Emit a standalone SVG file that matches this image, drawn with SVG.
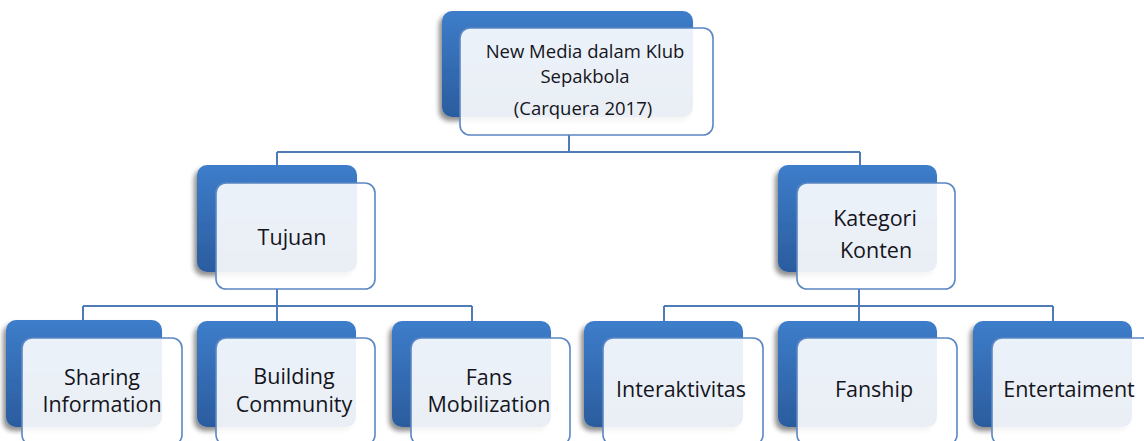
<svg xmlns="http://www.w3.org/2000/svg" width="1144" height="441" viewBox="0 0 1144 441">
<defs>
<linearGradient id="blueGrad" x1="0" y1="0" x2="0" y2="1">
<stop offset="0" stop-color="#3d7dca"/>
<stop offset="1" stop-color="#2b5c9e"/>
</linearGradient>
<filter id="shadow" x="-20%" y="-20%" width="140%" height="140%">
<feGaussianBlur in="SourceAlpha" stdDeviation="2.5"/>
<feOffset dx="-3" dy="4" result="b"/>
<feComponentTransfer><feFuncA type="linear" slope="0.45"/></feComponentTransfer>
<feMerge><feMergeNode/><feMergeNode in="SourceGraphic"/></feMerge>
</filter>
</defs>
<style>
.back{fill:url(#blueGrad);filter:url(#shadow);}
.front{fill:#ffffff;fill-opacity:0.9;stroke:#5b87c2;stroke-width:1.6;}
.conn{fill:none;stroke:#4f7bb7;stroke-width:2;}
.t{font-family:"Open Sans","Noto Sans","Liberation Sans",sans-serif;font-size:21.5px;fill:#15151d;text-anchor:middle;}
.ts{font-family:"Open Sans","Noto Sans","Liberation Sans",sans-serif;font-size:18.5px;fill:#15151d;text-anchor:middle;}
</style>
<rect width="1144" height="441" fill="#ffffff"/>
<g id="connectors">
<path class="conn" d="M569,135 V152 M277,152 H860 M277,152 V166 M860,152 V166"/>
<path class="conn" d="M277,289 V306 M83,306 H472 M83,306 V321 M277,306 V321 M472,306 V321"/>
<path class="conn" d="M859,289 V306 M664,306 H1053 M664,306 V321 M859,306 V321 M1053,306 V321"/>
</g>
<g id="node-root">
<rect class="back" x="442" y="11" width="251" height="106" rx="10"/>
<rect class="front" x="460" y="28" width="253" height="107" rx="10"/>
<text class="ts" x="585" y="58">New Media dalam Klub</text>
<text class="ts" x="585" y="83">Sepakbola</text>
<text class="ts" x="583" y="115">(Carquera 2017)</text>
</g>
<g id="node-tujuan">
<rect class="back" x="197" y="165" width="160" height="107" rx="10"/>
<rect class="front" x="216" y="183" width="159" height="106" rx="10"/>
<text class="t" x="292" y="245">Tujuan</text>
</g>
<g id="node-kategori">
<rect class="back" x="778" y="165" width="159" height="107" rx="10"/>
<rect class="front" x="797" y="183" width="158" height="106" rx="10"/>
<text class="t" x="875" y="226">Kategori</text>
<text class="t" x="876" y="258">Konten</text>
</g>
<g id="node-sharing">
<rect class="back" x="6" y="320" width="156" height="107" rx="10"/>
<rect class="front" x="22" y="338" width="160" height="107" rx="10"/>
<text class="t" x="102" y="385">Sharing</text>
<text class="t" x="102" y="412">Information</text>
</g>
<g id="node-building">
<rect class="back" x="197" y="321" width="159" height="106" rx="10"/>
<rect class="front" x="216" y="338" width="159" height="107" rx="10"/>
<text class="t" x="294" y="384">Building</text>
<text class="t" x="294" y="412">Community</text>
</g>
<g id="node-fans">
<rect class="back" x="392" y="321" width="159" height="106" rx="10"/>
<rect class="front" x="411" y="338" width="159" height="107" rx="10"/>
<text class="t" x="489" y="385">Fans</text>
<text class="t" x="489" y="412">Mobilization</text>
</g>
<g id="node-interaktivitas">
<rect class="back" x="584" y="321" width="159" height="106" rx="10"/>
<rect class="front" x="603" y="338" width="160" height="107" rx="10"/>
<text class="t" x="681" y="397">Interaktivitas</text>
</g>
<g id="node-fanship">
<rect class="back" x="778" y="321" width="159" height="106" rx="10"/>
<rect class="front" x="797" y="338" width="160" height="107" rx="10"/>
<text class="t" x="874" y="397">Fanship</text>
</g>
<g id="node-entertaiment">
<rect class="back" x="973" y="321" width="159" height="106" rx="10"/>
<rect class="front" x="992" y="338" width="160" height="107" rx="10"/>
<text class="t" x="1069" y="397">Entertaiment</text>
</g>
</svg>
